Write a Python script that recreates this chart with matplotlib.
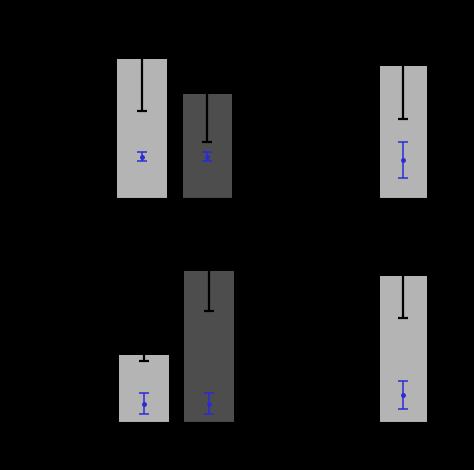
import matplotlib
matplotlib.use("Agg")
import matplotlib.pyplot as plt

# bar heights (arbitrary units)
top_left_means = [1.39, 1.04]
top_left_errs = [0.52, 0.48]
top_left_inner = [0.41, 0.41]
top_left_inner_errs = [0.047, 0.045]

bottom_left_means = [0.67, 1.50]
bottom_left_errs = [0.06, 0.394]
bottom_left_inner = [0.18, 0.18]
bottom_left_inner_errs = [0.105, 0.107]

top_right_means = [1.32]
top_right_errs = [0.53]
top_right_inner = [0.38]
top_right_inner_errs = [0.18]

bottom_right_means = [1.46]
bottom_right_errs = [0.424]
bottom_right_inner = [0.27]
bottom_right_inner_errs = [0.14]

LIGHT = '#b4b4b4'
DARK = '#4d4d4d'
BLUE = '#2b2bd6'

W, H = 474, 470
fig = plt.figure(figsize=(W / 100, H / 100), dpi=100)
fig.patch.set_facecolor('black')


def add_panel(px0, px1, py_top, py_bot, xlim, ylim):
    ax = fig.add_axes([px0 / W, 1 - py_bot / H, (px1 - px0) / W, (py_bot - py_top) / H])
    ax.set_facecolor('black')
    ax.set_xlim(*xlim)
    ax.set_ylim(*ylim)
    for s in ax.spines.values():
        s.set_color('black')
    ax.tick_params(colors='black', labelcolor='black')
    ax.set_xticks([])
    ax.set_yticks([])
    return ax


def draw(ax, means, errs, inner, inner_errs, colors, width):
    x = list(range(len(means)))
    ax.bar(x, means, width=width, color=colors, edgecolor='none', zorder=2)
    ax.errorbar(x, means, yerr=errs, fmt='none', ecolor='black',
                elinewidth=1.6, capsize=3.6, capthick=1.6, zorder=3)
    ax.errorbar(x, inner, yerr=inner_errs, fmt='o', ms=2.5, color=BLUE,
                ecolor=BLUE, elinewidth=1.1, capsize=3.6, capthick=1.1, zorder=4)


ax1 = add_panel(100, 250, 40, 197.5, (-0.641, 1.649), (0, 1.575))
draw(ax1, top_left_means, top_left_errs, top_left_inner, top_left_inner_errs,
     [LIGHT, DARK], 0.75)

ax2 = add_panel(360, 450, 40, 198, (-0.695, 0.75), (0, 1.58))
draw(ax2, top_right_means, top_right_errs, top_right_inner, top_right_inner_errs,
     [LIGHT], 0.75)

ax3 = add_panel(100, 250, 260, 421.5, (-0.682, 1.633), (0, 1.615))
draw(ax3, bottom_left_means, bottom_left_errs, bottom_left_inner, bottom_left_inner_errs,
     [LIGHT, DARK], 0.78)

ax4 = add_panel(360, 450, 260, 421.5, (-0.695, 0.75), (0, 1.615))
draw(ax4, bottom_right_means, bottom_right_errs, bottom_right_inner, bottom_right_inner_errs,
     [LIGHT], 0.75)

fig.savefig('out.png', dpi=100, facecolor='black')
